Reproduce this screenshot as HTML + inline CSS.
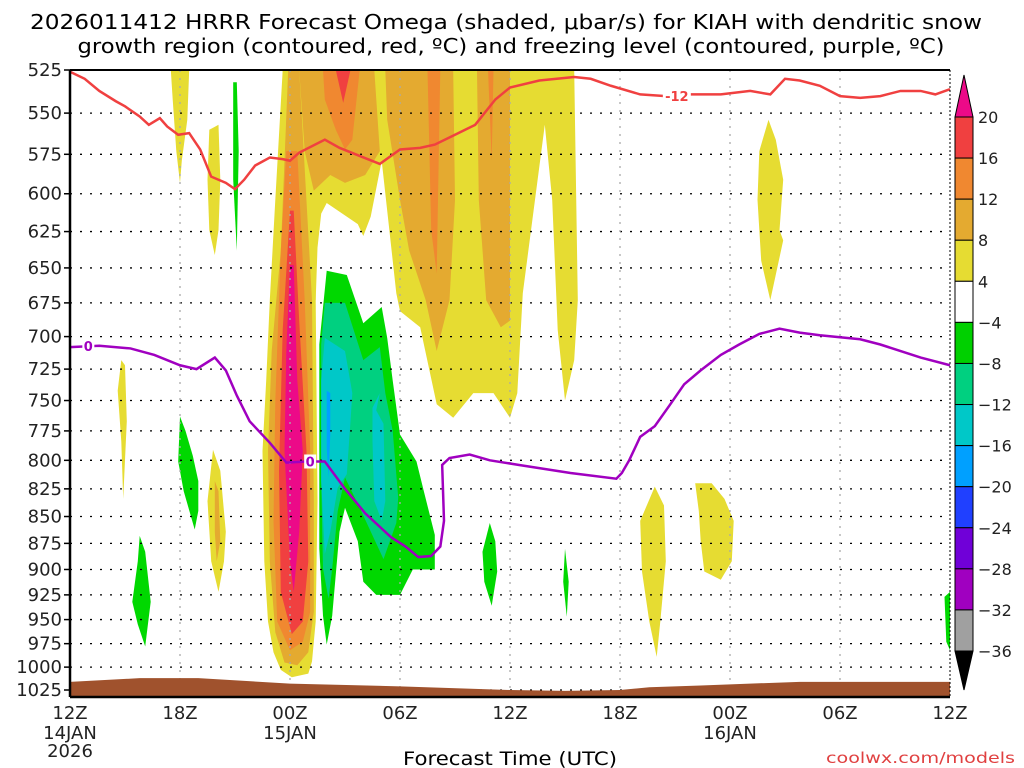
<!DOCTYPE html>
<html><head><meta charset="utf-8"><style>
body{margin:0;background:#fff;}
svg{display:block;font-family:"DejaVu Sans","Liberation Sans",sans-serif;}
</style></head><body>
<svg id="chart" width="1024" height="768" viewBox="0 0 1024 768">
<text x="506" y="29" font-size="20" text-anchor="middle" textLength="952" lengthAdjust="spacingAndGlyphs">2026011412 HRRR Forecast Omega (shaded, μbar/s) for KIAH with dendritic snow</text>
<text x="511" y="53" font-size="20" text-anchor="middle" textLength="867" lengthAdjust="spacingAndGlyphs">growth region (contoured, red, ºC) and freezing level (contoured, purple, ºC)</text>
<g id="fills"></g>
<g id="grid"></g>
<g id="lines"></g>
<g id="axes"></g>
<g id="cbar"></g>
<text x="510" y="765" font-size="19" text-anchor="middle" textLength="214" lengthAdjust="spacingAndGlyphs">Forecast Time (UTC)</text>
<text x="1015" y="763" font-size="15" text-anchor="end" fill="#e04040" textLength="189" lengthAdjust="spacingAndGlyphs">coolwx.com/models</text>
</svg>
<script>
const pTicks=[525,550,575,600,625,650,675,700,725,750,775,800,825,850,875,900,925,950,975,1000,1025];
const hTicks=[0,6,12,18,24,30,36,42,48];
const hLabels=["12Z","18Z","00Z","06Z","12Z","18Z","00Z","06Z","12Z"];
const dateLabels={0:["14JAN","2026"],12:["15JAN"],36:["16JAN"]};
const cbLevels=["20","16","12","8","4","-4","-8","-12","-16","-20","-24","-28","-32","-36"];
const cbColors=["#f04040","#f08830","#e4aa30","#e6dc32","#ffffff","#00d000","#00d080","#00c8c8","#00a0ff","#2040ff","#7000d8","#a000c0","#a0a0a0"];
const C={y:"#e6dc32",g:"#e4aa30",o:"#f08830",r:"#f04040",m:"#ec0a88",G:"#00d800",T:"#00d080",c:"#00c8c8",b:"#00a0ff"};
const shapeBigYellow=[[11.6,525],[27.5,525],[27.7,673],[27.5,718],[27,750],[26.6,695],[26.3,604],[25.9,557],[24.7,668],[24.4,744],[24,764],[23.1,744],[22,744],[20.9,764],[20,753],[19.1,693],[18,681],[17.8,668],[17,579],[16.4,615],[16,628],[15.7,620],[14,606],[13.7,613],[13.5,636],[13.4,673],[12.5,673]];
const shapePlumeY=[[11.6,525],[13.3,525],[13.4,673],[13.5,836],[13.4,952],[13.2,994],[13,1007],[12.1,1011],[11.5,1003],[11.1,984],[10.8,952],[10.6,892],[10.5,792],[10.7,734],[10.9,673],[11.2,604]];
const shapePlumeG=[[11.9,525],[12.5,525],[13.2,673],[13.3,836],[13.3,942],[13,984],[12.4,998],[11.7,995],[11.2,963],[10.9,892],[10.8,792],[11,711],[11.5,638]];
const shapePlumeO=[[11.8,573],[12.4,573],[12.8,673],[13.1,792],[13.1,942],[12.7,973],[12,982],[11.3,952],[11.1,854],[11.2,750],[11.5,638]];
const shapePlumeR=[[12,611],[12.2,611],[12.5,688],[12.9,792],[13,892],[12.7,952],[12.1,965],[11.5,922],[11.4,809],[11.6,695]];
const shapePlumeM=[[12,648],[12.2,648],[12.4,734],[12.7,792],[12.5,864],[12.2,922],[12,892],[11.7,792],[11.8,711]];
const shapeG1=[[12.5,525],[16.6,525],[16.9,573],[16.1,588],[15,593],[14.2,588],[13.3,598],[12.8,573]];
const shapeG2=[[17.2,525],[20.9,525],[21,604],[20.7,673],[20,711],[19.4,673],[18.5,638],[18,604],[17.3,554]];
const shapeG3=[[22.2,525],[24,525],[24,688],[23.5,693],[22.7,673],[22.3,604]];
const shapeO1=[[13.8,525],[15.8,525],[15.4,566],[15,572],[14.5,560],[13.9,542]];
const shapeO2=[[19.5,525],[20.2,525],[20,654],[19.7,624]];
const shapeO3=[[22.8,525],[23.1,525],[23,579]];
const shapeR1=[[14.5,525],[15.3,525],[14.9,544]];
const shapeGreen=[[14,652],[15.1,655],[16,690],[17,678],[17.3,701],[17.6,734],[18,778],[18.9,801],[19.3,827],[19.9,867],[19.9,900],[18.7,900],[18,925],[16.7,925],[16,912],[15.7,873],[15,842],[14.7,864],[14.3,946],[14,976],[13.8,946],[13.6,880],[13.6,734],[13.6,706]];
const shapeTeal=[[13.9,675],[15,675],[16,718],[16.9,708],[17.2,744],[17.6,775],[17.9,833],[17.8,856],[17.1,890],[15.8,842],[15,815],[14.6,845],[14.3,899],[14.1,929],[13.8,899],[13.7,818],[13.7,734],[13.7,706]];
const shapeCyan1=[[13.9,701],[15,711],[15.4,744],[15.3,767],[15.1,812],[14.6,824],[14.2,864],[13.9,885],[13.7,818],[13.7,734]];
const shapeCyan2=[[16.7,758],[17.1,769],[17.2,836],[17,854],[16.6,836],[16.5,784],[16.5,756],[16.9,744]];
const shapeBlue=[[14,742],[14.2,744],[14.2,778],[14.1,815],[14,789],[14,750]];
const shapeY1=[[5.5,525],[6.5,525],[6.4,554],[6.1,579],[6,593],[5.8,573],[5.6,542]];
const shapeY2=[[7.6,560],[8.1,557],[8.2,591],[8.1,624],[7.9,641],[7.6,624],[7.5,591]];
const shapeGthin=[[8.9,532],[9.1,532],[9.2,573],[9.1,638],[8.9,591]];
const shapeY3=[[2.8,718],[3,722],[3.1,767],[2.9,834],[2.8,784],[2.6,742]];
const shapeGs1=[[6,763],[6.3,775],[6.7,796],[7,818],[7,845],[6.8,862],[6.2,827],[5.9,801]];
const shapeY4=[[7.8,791],[8.2,809],[8.5,864],[8.4,892],[8.1,922],[7.7,892],[7.5,836]];
const shapeGold4=[[7.9,818],[8.1,827],[8.2,873],[8,892],[7.9,864]];
const shapeGs2=[[3.8,868],[4.1,883],[4.4,932],[4.1,978],[3.7,955],[3.4,932],[3.7,892]];
const shapeGs3=[[22.9,856],[23.2,873],[23.3,902],[23,936],[22.6,912],[22.5,883]];
const shapeGs4=[[27,880],[27.2,912],[27.1,947],[26.9,912]];
const shapeY5=[[31.9,823],[32.4,840],[32.5,892],[32.2,952],[32,989],[31.6,952],[31.2,902],[31.1,854]];
const shapeY6=[[34.1,820],[35,820],[35.7,834],[36.2,854],[36.1,892],[35.5,910],[34.6,902],[34.4,873],[34.3,845]];
const shapeY7=[[38.1,554],[38.5,566],[38.9,591],[38.7,624],[38.9,631],[38.2,673],[37.7,645],[37.5,604],[37.6,573]];
const shapeGedge=[[47.7,927],[48,922],[48,982],[47.8,973]];
const fillOrder=[["y",shapeBigYellow,"yellow-region-main"],["y",shapePlumeY,"yellow-plume"],["g",shapePlumeG,"gold-plume"],["g",shapeG1,"gold-region-1"],["g",shapeG2,"gold-region-2"],["g",shapeG3,"gold-region-3"],["o",shapePlumeO,"orange-plume"],["o",shapeO1,"orange-region-1"],["o",shapeO2,"orange-region-2"],["o",shapeO3,"orange-region-3"],["r",shapePlumeR,"red-plume"],["r",shapeR1,"red-region-1"],["m",shapePlumeM,"magenta-plume"],["y",shapeY1,"yellow-streak-1"],["y",shapeY2,"yellow-streak-2"],["G",shapeGthin,"green-streak"],["y",shapeY3,"yellow-streak-3"],["G",shapeGs1,"green-blob-1"],["y",shapeY4,"yellow-streak-4"],["g",shapeGold4,"gold-streak-4"],["G",shapeGs2,"green-blob-2"],["G",shapeGs3,"green-blob-3"],["G",shapeGs4,"green-blob-4"],["y",shapeY5,"yellow-blob-5"],["y",shapeY6,"yellow-blob-6"],["y",shapeY7,"yellow-blob-7"],["G",shapeGedge,"green-edge"],["G",shapeGreen,"green-region-main"],["T",shapeTeal,"teal-region"],["c",shapeCyan1,"cyan-region-1"],["c",shapeCyan2,"cyan-region-2"],["b",shapeBlue,"blue-region"]];
const dgzHours=[0,0.8,1.6,2.5,3,3.8,4.3,4.9,5.3,5.9,6.5,7.1,7.7,8.5,9,9.5,10.1,10.9,11.6,12,12.5,13.9,14.7,15.8,16.9,18,19.1,19.9,21,22.1,23.2,24,25.6,27.5,28.4,29.5,31.1,32.5,33.8,35.5,37.1,38.2,39,39.8,40.9,42,43.1,44.2,45.3,46.4,47.2,48];
const dgzP=[526,530,537,543,546,552,557,553,558,563,562,572,589,593,597,591,582,577,578,579,574,566,571,576,581,572,571,569,563,557,542,535,531,529,530,534,539,540,539,539,537,539,530,531,534,540,541,540,537,537,539,536];
const frzHours=[0,1.6,3.3,4.6,6,6.9,7.9,8.5,9.1,9.8,10.9,11.8,12.9,13.9,15,16.1,17.5,18.3,19,19.7,20.2,20.4,20.3,20.7,21.8,22.9,24.5,27.3,29.8,30.1,30.5,31.1,31.9,32.7,33.5,34.4,35.5,36.5,37.6,38.7,39.8,40.9,43.1,44.2,46.4,48];
const frzP=[708,707,709,714,722,725,716,726,746,767,785,802,801,801,825,847,869,878,888,887,878,854,804,798,795,800,804,811,816,811,800,780,771,754,737,726,714,706,698,694,697,699,702,706,716,722];
const terrainH=[0,3.8,7,12,18,24,27,30,31.6,34.4,39.8,48];
const terrainP=[1016,1012,1012,1018,1021,1025,1026,1025,1022,1020,1016,1016];

const X0=70,X1=950,Y0=70,Y1=697,PTOP=525,PBOT=1025,YBOT=690;
const xS=h=>X0+h*(X1-X0)/48;
const yS=p=>Y0+(Math.log(p)-Math.log(PTOP))/(Math.log(PBOT)-Math.log(PTOP))*(YBOT-Y0);
const NS="http://www.w3.org/2000/svg";
function mk(tag,attrs,parent){const e=document.createElementNS(NS,tag);for(const k in attrs)e.setAttribute(k,attrs[k]);parent.appendChild(e);return e;}
const fills=document.getElementById('fills'),grid=document.getElementById('grid'),lines=document.getElementById('lines'),axes=document.getElementById('axes'),cbar=document.getElementById('cbar');
mk('clipPath',{id:'clip'},fills).innerHTML='<rect x="70" y="70" width="880" height="627"/>';
const fg=mk('g',{'clip-path':'url(#clip)'},fills);
fillOrder.forEach(([c,pts,nm])=>{
  const e=mk('polygon',{points:pts.map(q=>xS(q[0]).toFixed(1)+','+yS(q[1]).toFixed(1)).join(' '),fill:C[c]},fg);
  
  
});
pTicks.forEach(p=>{
  const y=yS(p);
  const l=mk('line',{x1:X0,x2:X1,y1:y,y2:y,stroke:'#000','stroke-width':1.3,'stroke-dasharray':'2,8'},grid);
  
  
  const t=mk('line',{x1:X0-6,x2:X0,y1:y,y2:y,stroke:'#000','stroke-width':1.5},axes);
  
  
  const tx=mk('text',{x:62,y:y+6,'font-size':18,'text-anchor':'end',fill:'#222'},axes);
  tx.textContent=p;
  
  
});
hTicks.forEach((h,i)=>{
  const x=xS(h);
  if(i>0&&i<hTicks.length-1){const l=mk('line',{x1:x,x2:x,y1:Y0,y2:Y1,stroke:'#aaa','stroke-width':1.3,'stroke-dasharray':'2,6'},grid);
  
  }
  const tx=mk('text',{x:x,y:719,'font-size':18,'text-anchor':'middle',fill:'#222'},axes);
  tx.textContent=hLabels[i];
  
  
  (dateLabels[h]||[]).forEach((d,j)=>{const t2=mk('text',{x:x,y:739+j*18,'font-size':18,'text-anchor':'middle',fill:'#222'},axes);t2.textContent=d;
  
  });
});
const tpts=terrainH.map((h,i)=>xS(h)+','+yS(terrainP[i])).join(' ')+' '+X1+','+Y1+' '+X0+','+Y1;
const ter=mk('polygon',{points:tpts,fill:'#a0522d'},lines);


const dl=mk('polyline',{points:dgzHours.map((h,i)=>xS(h)+','+yS(dgzP[i])).join(' '),fill:'none',stroke:'#f04040','stroke-width':2.5},lines);


const fl=mk('polyline',{points:frzHours.map((h,i)=>xS(h)+','+yS(frzP[i])).join(' '),fill:'none',stroke:'#a000c0','stroke-width':2.5},lines);


function lab(txt,h,p,col,nm){const x=xS(h),y=yS(p);
  const r=mk('rect',{x:x-(txt.length*4+2),y:y-7,width:txt.length*8+4,height:14,fill:'#fff'},lines);
  
  const t=mk('text',{x:x,y:y+5,'font-size':13,'font-weight':'bold','text-anchor':'middle',fill:col},lines);t.textContent=txt;
  }
lab('-12',33.1,540,'#f04040','dgz-line-label');
lab('0',1,707,'#a000c0','freezing-label-1');
lab('0',13.1,801,'#a000c0','freezing-label-2');
mk('line',{x1:X0,x2:X1,y1:Y0,y2:Y0,stroke:'#000','stroke-width':2},axes);
mk('line',{x1:X0,x2:X0,y1:Y0,y2:Y1,stroke:'#000','stroke-width':2.5},axes);
mk('line',{x1:X0,x2:X1,y1:Y1,y2:Y1,stroke:'#000','stroke-width':2.5},axes);
mk('line',{x1:X1,x2:X1,y1:Y0,y2:Y1,stroke:'#000','stroke-width':1,'stroke-dasharray':'2,2'},axes);
const CX=955,CW=18,CT=117,CB=651,bh=(CB-CT)/cbColors.length;
const tu=mk('polygon',{points:`${CX},${CT} ${CX+CW},${CT} ${CX+CW/2},75`,fill:'#ec0a88',stroke:'#000'},cbar);

cbColors.forEach((c,i)=>{const r=mk('rect',{x:CX,y:CT+i*bh,width:CW,height:bh,fill:c,stroke:'#000','stroke-width':1},cbar);
  });
const td=mk('polygon',{points:`${CX},${CB} ${CX+CW},${CB} ${CX+CW/2},690`,fill:'#000',stroke:'#000'},cbar);

cbLevels.forEach((l,i)=>{const t=mk('text',{x:978,y:CT+i*bh+6,'font-size':16,fill:'#222'},cbar);t.textContent=l.replace('-','−');
  });
</script>
</body></html>
